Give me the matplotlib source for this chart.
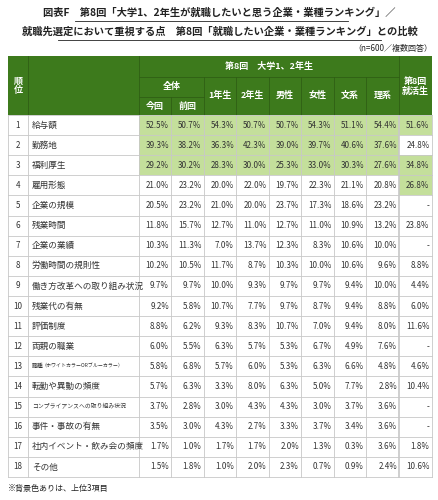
import matplotlib
matplotlib.use("Agg")
import matplotlib.pyplot as plt
from matplotlib.patches import Rectangle

plt.rcParams['font.family'] = ['Noto Sans CJK JP', 'DejaVu Sans']

items = ["給与額","勤務地","福利厚生","雇用形態","企業の規模","残業時間","企業の業績","労働時間の規則性",
         "働き方改革への取り組み状況","残業代の有無","評価制度","両親の職業","職種（ホワイトカラーORブルーカラー）",
         "転勤や異動の頻度","コンプライアンスへの取り組み状況","事件・事故の有無","社内イベント・飲み会の頻度","その他"]
col_now  = [52.5,39.3,29.2,21.0,20.5,11.8,10.3,10.2,9.7,9.2,8.8,6.0,5.8,5.7,3.7,3.5,1.7,1.5]
col_prev = [50.7,38.2,30.2,23.2,23.2,15.7,11.3,10.5,9.7,5.8,6.2,5.5,6.8,6.3,2.8,3.0,1.0,1.8]
col_y1   = [54.3,36.3,28.3,20.0,21.0,12.7,7.0,11.7,10.0,10.7,9.3,6.3,5.7,3.3,3.0,4.3,1.7,1.0]
col_y2   = [50.7,42.3,30.0,22.0,20.0,11.0,13.7,8.7,9.3,7.7,8.3,5.7,6.0,8.0,4.3,2.7,1.7,2.0]
col_male = [50.7,39.0,25.3,19.7,23.7,12.7,12.3,10.3,9.7,9.7,10.7,5.3,5.3,6.3,4.3,3.3,2.0,2.3]
col_fem  = [54.3,39.7,33.0,22.3,17.3,11.0,8.3,10.0,9.7,8.7,7.0,6.7,6.3,5.0,3.0,3.7,1.3,0.7]
col_bun  = [51.1,40.6,30.3,21.1,18.6,10.9,10.6,10.6,9.4,9.4,9.4,4.9,6.6,7.7,3.7,3.4,0.3,0.9]
col_ri   = [54.4,37.6,27.6,20.8,23.2,13.2,10.0,9.6,10.0,8.8,8.0,7.6,4.8,2.8,3.6,3.6,3.6,2.4]
col_shu  = [51.6,24.8,34.8,26.8,None,23.8,None,8.8,4.4,6.0,11.6,None,4.6,10.4,None,None,1.8,10.6]
columns = [col_now,col_prev,col_y1,col_y2,col_male,col_fem,col_bun,col_ri,col_shu]
col_labels = ["今回","前回","1年生","2年生","男性","女性","文系","理系","第8回\n就活生"]

fig = plt.figure(figsize=(4.39,5.0), dpi=100)
ax = fig.add_axes([0,0,1,1])
ax.set_xlim(0,439); ax.set_ylim(500,0); ax.axis('off')

DARK = '#3d7a1c'; LINE_D = '#2f5f14'; HL = '#c4df9b'; GRID = '#c8c8c8'
xe = [8,28,139,171.5,204,236.5,269,301.5,334,366.5,399.5,432]
h0, h1, h2, h3 = 56, 76.5, 97, 115
rh = (477-115)/18

for y, t in [(13, "図表F　第8回「大学1、2年生が就職したいと思う企業・業種ランキング」／"),
             (32, "就職先選定において重視する点　第8回「就職したい企業・業種ランキング」との比較")]:
    ax.text(219.5, y, t, ha='center', va='center', fontsize=7.4, fontweight='bold', color='#222')
ax.plot([75,348],[20.5,20.5], color='#222', lw=0.6)
ax.plot([58,381],[39.5,39.5], color='#222', lw=0.6)
ax.text(432, 48, "（n=600／複数回答）", ha='right', va='center', fontsize=5.8, color='#222')

ax.add_patch(Rectangle((xe[0],h0), xe[-1]-xe[0], h3-h0, fc=DARK, ec='none'))
def vl(x,y0,y1,c=LINE_D): ax.plot([x,x],[y0,y1],color=c,lw=0.6)
def hl(y,x0,x1,c=LINE_D): ax.plot([x0,x1],[y,y],color=c,lw=0.6)
vl(xe[1],h0,h3); vl(xe[2],h0,h3); vl(xe[10],h0,h3)
hl(h1,xe[2],xe[10]); hl(h2,xe[2],xe[4])
vl(xe[3],h2,h3)
for i in range(4,10): vl(xe[i],h1,h3)
hk = dict(color='white', fontsize=6.5, fontweight='bold', ha='center', va='center')
ax.text(18, 86, "順\n位", linespacing=1.0, **hk)
ax.text((xe[2]+xe[10])/2, (h0+h1)/2, "第8回　大学1、2年生", **hk)
ax.text((xe[2]+xe[4])/2, (h1+h2)/2, "全体", **hk)
for i in range(2):
    ax.text((xe[2+i]+xe[3+i])/2, (h2+h3)/2, col_labels[i], **hk)
for i in range(2,8):
    ax.text((xe[2+i]+xe[3+i])/2, (h1+h3)/2, col_labels[i], **hk)
ax.text((xe[10]+xe[11])/2, (h0+h3)/2+1, col_labels[8], linespacing=1.05, **hk)

for c, col in enumerate(columns):
    vals = sorted([v for v in col if v is not None], reverse=True)[:3]
    for r, v in enumerate(col):
        y0 = h3 + r*rh
        x0, x1 = xe[c+2], xe[c+3]
        if v is not None and v in vals:
            ax.add_patch(Rectangle((x0,y0), x1-x0, rh, fc=HL, ec='none'))
        s = "-" if v is None else f"{v:.1f}%"
        ax.text(x1-2.5, y0+rh/2, s, ha='right', va='center', fontsize=5.8, color='#333')
for r, name in enumerate(items):
    y = h3 + r*rh + rh/2
    ax.text(18, y, str(r+1), ha='center', va='center', fontsize=5.8, color='#333')
    if name.startswith("職種"):
        ax.text(32, y, "職種", ha='left', va='center', fontsize=4.2, color='#333')
        ax.text(42, y, "（ホワイトカラーORブルーカラー）", ha='left', va='center', fontsize=3.6, color='#333')
    else:
        fs = 4.2 if len(name) > 14 else 6.2
        ax.text(32, y, name, ha='left', va='center', fontsize=fs, color='#333')
for r in range(19):
    hl(h3 + r*rh, xe[0], xe[-1], GRID)
for x in xe:
    vl(x, h3, h3+18*rh, GRID)
vl(xe[10]-1, h3, h3+18*rh, GRID)

ax.text(8, 488, "※背景色ありは、上位3項目", ha='left', va='center', fontsize=5.8, color='#222')
fig.savefig("out.png", dpi=100)
